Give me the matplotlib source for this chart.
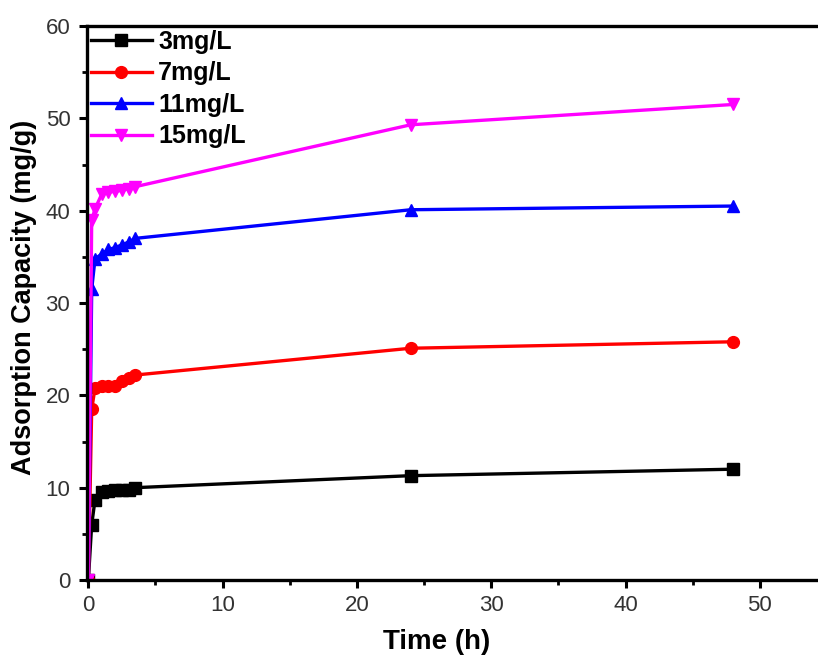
import matplotlib.pyplot as plt
import numpy as np

# data
time_h = [0, 0.25, 0.5, 1, 1.5, 2, 2.5, 3, 3.5, 24, 48]
c3 = [0, 6.0, 8.7, 9.5, 9.6, 9.7, 9.7, 9.8, 10.0, 11.3, 12.0]
c7 = [0, 18.5, 20.8, 21.0, 21.0, 21.0, 21.5, 21.9, 22.2, 25.1, 25.8]
c11 = [0, 31.5, 34.8, 35.3, 35.8, 36.0, 36.3, 36.6, 37.0, 40.1, 40.5]
c15 = [0, 39.0, 40.2, 41.8, 42.0, 42.1, 42.2, 42.4, 42.6, 49.3, 51.5]
labels = ['3mg/L', '7mg/L', '11mg/L', '15mg/L']
colors = ['black', 'red', 'blue', 'magenta']
markers = ['s', 'o', '^', 'v']

plt.rcParams['font.family'] = ['Liberation Sans', 'DejaVu Sans']

fig = plt.figure(figsize=(8.18, 6.57), dpi=100)
ax = fig.add_axes([87 / 818, 77 / 657, 740 / 818, 554 / 657])

for y, lab, col, mk in zip([c3, c7, c11, c15], labels, colors, markers):
    ax.plot(time_h, y, color=col, marker=mk, markersize=8.5, linewidth=2.4, label=lab)

ax.set_xlim(-0.1, 55)
ax.set_ylim(0, 60)
ax.set_xticks(np.arange(0, 51, 10))
ax.set_xticks(np.arange(5, 50, 10), minor=True)
ax.set_yticks(np.arange(0, 61, 10))
ax.set_yticks(np.arange(5, 60, 10), minor=True)

for s in ax.spines.values():
    s.set_linewidth(2.4)
ax.tick_params(which='major', direction='out', length=6, width=2.2,
               labelsize=16, labelcolor='#333333')
ax.tick_params(which='minor', direction='out', length=3.5, width=2)
ax.tick_params(axis='x', which='major', pad=5)
ax.tick_params(axis='y', which='major', pad=6)

ax.set_xlabel('Time (h)', fontsize=20, fontweight='bold')
ax.set_ylabel('Adsorption Capacity (mg/g)', fontsize=19.5, fontweight='bold')
ax.xaxis.set_label_coords(0.472, -0.088)
ax.yaxis.set_label_coords(-0.068, 0.51)

leg = ax.legend(loc='upper left', bbox_to_anchor=(0, 1), frameon=False,
                handlelength=2.45, handletextpad=0.25, labelspacing=0.3,
                borderaxespad=0.05, borderpad=0.1,
                prop={'weight': 'bold', 'size': 18})

fig.savefig('out.png', dpi=100)
